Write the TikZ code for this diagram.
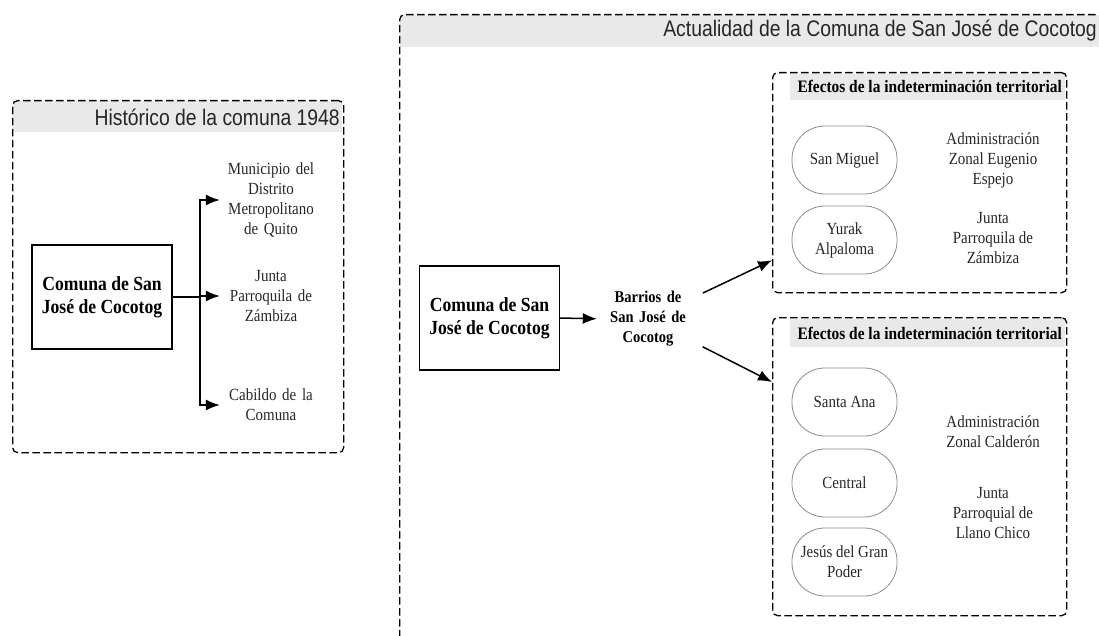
\documentclass[tikz,border=0pt]{standalone}
\usepackage{fontspec}
\setmainfont{Liberation Serif}
\newfontfamily\condserif[FakeStretch=0.88]{Liberation Serif}
\newfontfamily\condsans[FakeStretch=0.86]{Liberation Sans}
\usetikzlibrary{arrows.meta,calc}
\definecolor{bandgray}{HTML}{E9E9E9}
\definecolor{txtgray}{HTML}{262626}
\definecolor{ovalline}{HTML}{8C8C8C}
\begin{document}
\begin{tikzpicture}[x=1pt,y=-1pt,
  grp/.style={draw=black, line width=1.3pt, dash pattern=on 7.5pt off 3.5pt, rounded corners=5pt, inner sep=0pt, anchor=north west},
  bandfill/.style={fill=bandgray, draw=none},
  ttl/.style={font=\condsans\fontsize{22.5}{24}\selectfont, text=txtgray, anchor=east, inner sep=1pt},
  hdr/.style={font=\condserif\bfseries\fontsize{17.5}{20}\selectfont, text=black, anchor=east, inner sep=1pt},
  mainbox/.style={draw=black, line width=1.2pt, minimum width=140pt, minimum height=104pt, font=\condserif\bfseries\fontsize{20}{23}\selectfont, align=center},
  lbl/.style={font=\condserif\fontsize{17}{20}\selectfont, text=txtgray, align=center, inner sep=0pt},
  oval/.style={draw=ovalline, line width=0.8pt, rounded corners=33pt, minimum width=105pt, minimum height=68pt, inner sep=0pt, font=\condserif\fontsize{17}{20}\selectfont, text=txtgray, align=center},
  arr/.style={-{Latex[length=14pt,width=11pt]}, line width=1.5pt},
  plain/.style={line width=1.5pt}
]
\useasboundingbox (0,0) rectangle (1099,636);
\clip (0,0) rectangle (1099,636);

% ---------- Left group: historic ----------
\fill[bandfill] (13,101) rectangle (342,132);
\node[grp, minimum width=331pt, minimum height=352pt] (hist) at (12,100) {};
\node[ttl] (histt) at (341,117) {Histórico de la comuna 1948};

\node[mainbox] (lbox) at (102,297) {Comuna de San\\José de Cocotog};
\node[lbl, text width=92pt] (m1) at (271,200) {Municipio del\\Distrito\\Metropolitano\\de Quito};
\node[lbl, text width=92pt] (m2) at (271,296) {Junta\\Parroquila de\\Zámbiza};
\node[lbl, text width=92pt] (m3) at (271,405) {Cabildo de la\\Comuna};

\coordinate (br) at (200,297);
\draw[plain] (lbox.east) -- (br);
\draw[arr, shorten >=5pt] (br) |- (m1.west);
\draw[arr, shorten >=5pt] (br) |- (m2.west);
\draw[arr, shorten >=5pt] (br) |- (m3.west);

% ---------- Outer group: present ----------
\fill[bandfill] (400,15) rectangle (1099,47);
\node[grp, minimum width=800pt, minimum height=700pt] (now) at (399,14) {};
\node[ttl] (nowt) at (1098,31) {Actualidad de la Comuna de San José de Cocotog};

\node[mainbox] (rbox) at (489.5,318) {Comuna de San\\José de Cocotog};
\node[lbl, text width=84pt, font=\condserif\bfseries\fontsize{16.5}{20}\selectfont, text=black] (barrios) at (648,319) {Barrios de\\San José de\\Cocotog};
\draw[arr, shorten >=9pt] (rbox.east) -- (barrios.west);

% upper effects group
\fill[bandfill] (790,74) rectangle (1065,100);
\node[grp, minimum width=294pt, minimum height=220pt] (g1) at (772,72) {};
\node[hdr] (g1t) at (1063,86) {Efectos de la indeterminación territorial};
\node[oval] (o1) at (844.5,160) {San Miguel};
\node[oval] (o2) at (844.5,240) {Yurak\\Alpaloma};
\node[lbl] (a1) at (993,160) {Administración\\Zonal Eugenio\\Espejo};
\node[lbl] (a2) at (993,238) {Junta\\Parroquila de\\Zámbiza};

% lower effects group
\fill[bandfill] (790,319) rectangle (1065,347);
\node[grp, minimum width=294pt, minimum height=298pt] (g2) at (772,317) {};
\node[hdr] (g2t) at (1063,333) {Efectos de la indeterminación territorial};
\node[oval] (o3) at (844.5,402) {Santa Ana};
\node[oval] (o4) at (844.5,483) {Central};
\node[oval] (o5) at (844.5,562) {Jesús del Gran\\Poder};
\node[lbl] (a3) at (993,432) {Administración\\Zonal Calderón};
\node[lbl] (a4) at (993,513) {Junta\\Parroquial de\\Llano Chico};

\coordinate (g1in) at ($(g1.south west)+(0,-33)$);
\coordinate (g2in) at ($(g2.north west)+(0,65)$);
\draw[arr, shorten <=14pt] (barrios) -- (g1in);
\draw[arr, shorten <=14pt] (barrios) -- (g2in);
\end{tikzpicture}
\end{document}
